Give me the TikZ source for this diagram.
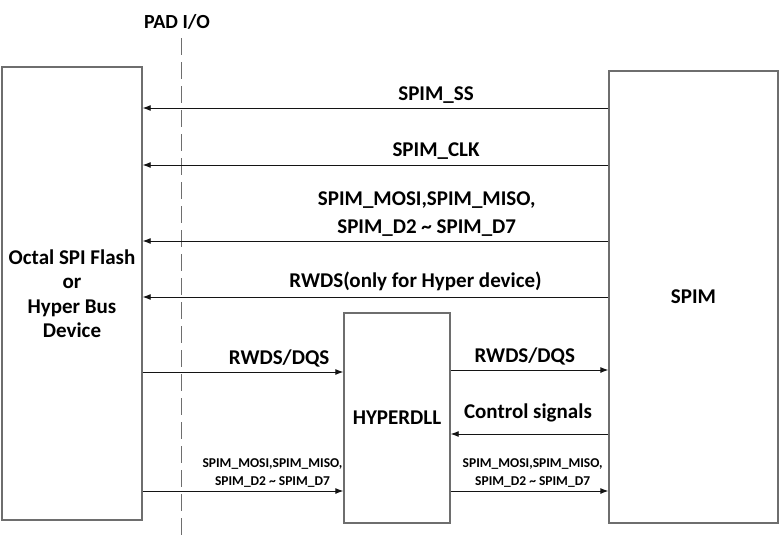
\documentclass[tikz,border=0pt]{standalone}
\usepackage{fontspec}
\setmainfont{Carlito}
\usetikzlibrary{arrows.meta,positioning,calc}
\definecolor{boxline}{RGB}{110,110,110}
\definecolor{sigline}{RGB}{20,20,20}
\tikzset{
  blockbox/.style={draw=boxline, line width=1.4pt, fill=white, align=center,
                   font=\fontsize{21}{24.5}\selectfont\bfseries, inner sep=0pt},
  sig/.style={-{Latex[length=8pt,width=6pt]}, line width=0.9pt, draw=sigline},
  siglabel/.style={above, font=\fontsize{21}{28}\selectfont\bfseries, align=center, inner sep=4pt},
  smalllabel/.style={above, font=\fontsize{13.5}{18}\selectfont\bfseries, align=center, inner sep=3pt},
  padline/.style={line width=0.9pt, draw=boxline, dash pattern=on 17pt off 7pt},
}
\begin{document}
\begin{tikzpicture}[x=1pt,y=-1pt]
    \useasboundingbox (0,0) rectangle (781,541);
    % blocks
    \node[blockbox, minimum width=140pt, minimum height=453pt] (flash) at (72,293.5)
        {Octal SPI Flash\\or\\Hyper Bus\\Device};
    \node[blockbox, minimum width=169pt, minimum height=452pt] (spim) at (693.5,297) {SPIM};
    \node[blockbox, minimum width=106pt, minimum height=210pt] (dll) at (397,418) {HYPERDLL};
    % pad boundary
    \node[font=\fontsize{20}{24}\selectfont\bfseries] (pad) at (177,22) {PAD I/O};
    \coordinate (padtop) at (181,38);
    \draw[padline] (padtop) -- (padtop |- 0,541);
    % SPIM -> flash
    \draw[sig] (spim.west |- 0,108) -- node[siglabel, pos=0.37] {SPIM\_SS} (flash.east |- 0,108);
    \draw[sig] (spim.west |- 0,165) -- node[siglabel, pos=0.37, inner sep=5pt] {SPIM\_CLK} (flash.east |- 0,165);
    \draw[sig] (spim.west |- 0,241) -- node[siglabel, pos=0.39] {SPIM\_MOSI,SPIM\_MISO,\\SPIM\_D2 \textasciitilde{} SPIM\_D7} (flash.east |- 0,241);
    \draw[sig] (spim.west |- 0,297) -- node[siglabel, pos=0.414, inner sep=6pt] {RWDS(only for Hyper device)} (flash.east |- 0,297);
    % through HYPERDLL
    \draw[sig] (flash.east |- 0,372) -- node[siglabel, pos=0.68] {RWDS/DQS} (dll.west |- 0,372);
    \draw[sig] (dll.east |- 0,370) -- node[siglabel, pos=0.47] {RWDS/DQS} (spim.west |- 0,370);
    \draw[sig] (spim.west |- 0,434) -- node[siglabel, pos=0.51, inner sep=11pt] {Control signals} (dll.east |- 0,434);
    \draw[sig] (flash.east |- 0,491) -- node[smalllabel, pos=0.647] {SPIM\_MOSI,SPIM\_MISO,\\SPIM\_D2 \textasciitilde{} SPIM\_D7} (dll.west |- 0,491);
    \draw[sig] (dll.east |- 0,491) -- node[smalllabel, pos=0.52] {SPIM\_MOSI,SPIM\_MISO,\\SPIM\_D2 \textasciitilde{} SPIM\_D7} (spim.west |- 0,491);
  \end{tikzpicture}
\end{document}
